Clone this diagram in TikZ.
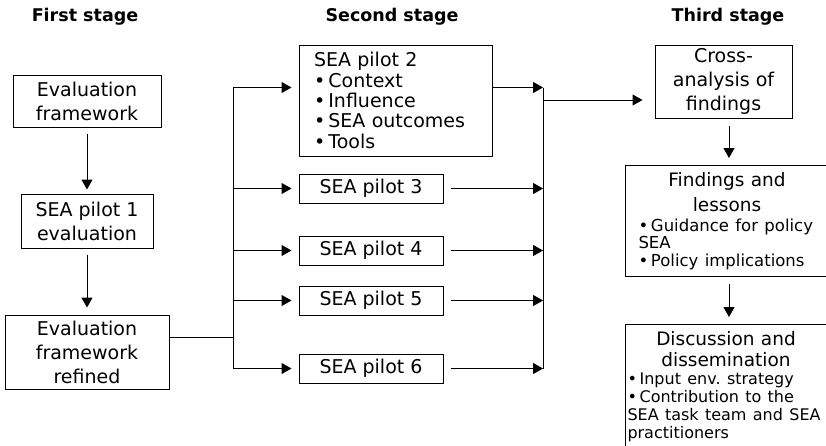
\documentclass[tikz,border=0pt]{standalone}
\usepackage{fontspec}
\setmainfont{DejaVu Sans}
\usepackage{tikz}
\usetikzlibrary{positioning,arrows.meta,calc}

\tikzset{
  stage/.style={font=\fontsize{17.5}{20}\selectfont\bfseries},
  box/.style={draw, line width=1pt, align=center, inner sep=2pt,
    font=\fontsize{19}{24}\selectfont},
  pilot/.style={box, minimum width=144pt, minimum height=29pt},
  wire/.style={line width=1pt},
  arr/.style={line width=1pt, -{Triangle[length=10pt,width=11pt]}},
}

\begin{document}
\begin{tikzpicture}[x=1pt, y=-1pt]
      \useasboundingbox (0,0) rectangle (826,445);
      \clip (0,0) rectangle (826,445);
      % Stage titles
      \node[stage] (stage1) at (85,17)  {First stage};
      \node[stage] (stage2) at (392,17) {Second stage};
      \node[stage] (stage3) at (728,17) {Third stage};

      % First stage
      \node[box, minimum width=148pt, minimum height=52pt] (evalfw) at (87,101) {Evaluation\\framework};
      \node[box, minimum width=132pt, minimum height=54pt, below=66pt of evalfw] (pilot1) {SEA pilot 1\\evaluation};
      \node[box, minimum width=164pt, minimum height=74pt, below=66pt of pilot1] (refined) {Evaluation\\framework\\refined};

      % Second stage
      \node[box, align=left, text width=163pt, inner xsep=15pt, minimum height=111pt,
            font=\fontsize{19}{20.3}\selectfont] (pilot2) at (395.5,100.5)
            {SEA pilot 2\\\textbullet\,Context\\\textbullet\,Influence\\\textbullet\,SEA outcomes\\\textbullet\,Tools};
      \node[pilot, below=17pt of pilot2.south west, anchor=north west] (pilot3) {SEA pilot 3};
      \node[pilot, below=32pt of pilot3] (pilot4) {SEA pilot 4};
      \node[pilot, below=20pt of pilot4] (pilot5) {SEA pilot 5};
      \node[pilot, below=38pt of pilot5] (pilot6) {SEA pilot 6};

      % Third stage
      \node[box, minimum width=137pt, minimum height=73pt] (cross) at (723.5,81.5) {Cross-\\analysis of\\findings};
      \node[box, anchor=north west, text width=177pt, inner xsep=13pt, minimum height=111pt] (findings) at (625,165)
            {{\centering\fontsize{18.5}{25}\selectfont Findings and\\lessons\par}\vspace{2pt}
             {\raggedright\fontsize{16.5}{17.5}\selectfont \textbullet\,Guidance for policy\\SEA\\\textbullet\,Policy implications\par}};
      \node[box, below=47pt of findings.south west, anchor=north west, text width=197pt, inner xsep=2pt,
            minimum height=124pt] (discussion)
            {{\centering\fontsize{18.5}{21}\selectfont Discussion and\\dissemination\par}
             {\raggedright\fontsize{16}{18}\selectfont \textbullet\,Input env.\ strategy\\\textbullet\,Contribution to the\\SEA task team and SEA\\practitioners\par}};

      % Connect the nodes
      \coordinate (split) at (233,337);
      \coordinate (join) at (543,100);
      \coordinate (p2in) at ($(pilot2.north west)+(0,43)$);
      \coordinate (p2out) at ($(pilot2.north east)+(0,43)$);
      \coordinate (down) at ($(cross.south)+(5.5,0)$);

      \draw[arr, shorten <=6pt, shorten >=4pt] (evalfw) -- (pilot1);
      \draw[arr, shorten <=6pt, shorten >=7pt] (pilot1) -- (refined);
      \draw[wire] (refined.east |- split) -- (split);
      \draw[wire] (split |- p2in) -- (split |- pilot6);
      \draw[arr, shorten >=7pt] (split |- p2in) -- (p2in);
      \foreach \p in {pilot3,pilot4,pilot5,pilot6}
        \draw[arr, shorten >=7pt] (split |- \p) -- (\p.west);

      \draw[arr] (p2out) -- (join |- p2out);
      \foreach \p in {pilot3,pilot4,pilot5,pilot6}
        \draw[arr, shorten <=7pt] (\p.east) -- (join |- \p);
      \draw[wire] (join |- p2out) -- (join |- pilot6);
      \draw[arr, shorten >=12pt] (join) -- (join -| cross.west);

      \draw[arr, shorten <=7pt, shorten >=7pt] (down) -- (down |- findings.north);
      \draw[arr, shorten <=7pt, shorten >=7pt] (down |- findings.south) -- (down |- discussion.north);
\end{tikzpicture}
\end{document}
